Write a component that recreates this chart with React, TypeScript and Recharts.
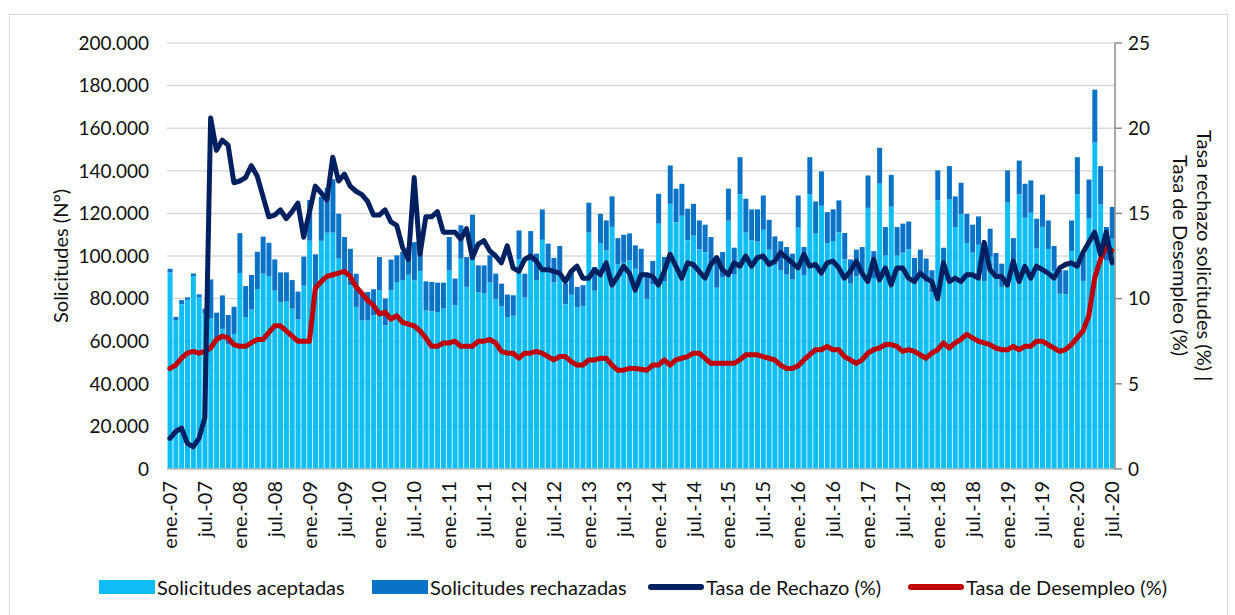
import React from 'react';
import { ComposedChart, Bar, Line, XAxis, YAxis, CartesianGrid } from 'recharts';

const MONTHS = ['ene.', 'feb.', 'mar.', 'abr.', 'may.', 'jun.', 'jul.', 'ago.', 'sep.', 'oct.', 'nov.', 'dic.'];
const YEARS = ['07', '08', '09', '10', '11', '12', '13', '14', '15', '16', '17', '18', '19', '20'];
const LAST_MONTH_2020 = 7; // series ends jul.-20

const ACCEPTED = [
  92300, 69800, 77400, 79400, 90600, 80500, 73000, 70700, 59700, 65800, 58600, 63400,
  92000, 71200, 74900, 84500, 91700, 90500, 83700, 78300, 78700, 75300, 70300, 86100,
  107200, 84100, 107100, 111000, 111000, 98800, 92000, 86300, 76100, 69800, 69800, 72200,
  83900, 67500, 83900, 87800, 88700, 91200, 88600, 93000, 74500, 74000, 73700, 75300,
  93300, 76900, 98800, 85500, 103800, 83000, 82500, 87500, 79900, 76300, 71200, 71900,
  98500, 80500, 97700, 88700, 107600, 93400, 87600, 92600, 77400, 81800, 75900, 76600,
  111000, 83700, 106100, 102600, 113700, 96100, 96900, 97900, 94000, 91600, 79900, 86700,
  115200, 88000, 124500, 115900, 118900, 107400, 109600, 103200, 101800, 95900, 85100, 90000,
  116600, 91300, 129000, 111000, 107400, 106800, 112300, 103000, 95900, 93300, 91300, 88900,
  113300, 91100, 129000, 110500, 123600, 106000, 107000, 111200, 98400, 87000, 90400, 92200,
  122600, 89700, 134000, 100200, 123200, 100200, 101600, 103200, 88200, 91200, 87700, 83000,
  126200, 91300, 126600, 113600, 119600, 106100, 101600, 105300, 88300, 99600, 90000, 85500,
  125100, 95200, 128900, 117900, 120300, 103500, 113700, 103300, 93000, 82300, 82100, 102400,
  129000, 88300, 117800, 153300, 124300, 97800, 108100,
];

const REJECTED = [
  1700, 1600, 1900, 1200, 1200, 1500, 2300, 18300, 13700, 15700, 13700, 12800,
  18700, 14700, 16200, 17500, 17400, 15700, 14700, 14000, 13600, 13400, 13000, 13600,
  19100, 16700, 20700, 21000, 25000, 21000, 16900, 17100, 15600, 13300, 13300, 12200,
  15600, 12500, 14400, 12500, 13200, 12800, 17900, 13500, 13600, 13800, 13800, 12200,
  15600, 12500, 15600, 14000, 15600, 12600, 13100, 12800, 11800, 10700, 10700, 9700,
  13500, 11200, 14000, 12400, 14300, 12400, 11500, 12100, 9600, 10700, 9600, 9700,
  14000, 11100, 13700, 14100, 14300, 12300, 13100, 12700, 11000, 11800, 10300, 11000,
  14000, 11500, 18000, 15700, 15000, 14800, 14900, 13500, 12900, 13000, 12100, 11900,
  15000, 12600, 17400, 15900, 14500, 15100, 16100, 14000, 13300, 13600, 12900, 12200,
  15100, 13100, 17400, 15100, 16100, 14600, 14900, 14900, 12400, 11400, 12600, 12000,
  15200, 12600, 16800, 13400, 14900, 13400, 13600, 13000, 10900, 11800, 11100, 10300,
  14000, 12600, 15600, 14400, 14800, 13700, 13100, 13300, 13600, 13200, 11400, 10900,
  15100, 13200, 15900, 16000, 15200, 14000, 15100, 13400, 11700, 11000, 11200, 14300,
  17400, 12800, 18100, 24800, 17900, 15800, 14900,
];

const REJECTION_RATE = [
  1.8, 2.2, 2.4, 1.5, 1.3, 1.8, 3.0, 20.6, 18.7, 19.3, 19.0, 16.8,
  16.9, 17.1, 17.8, 17.2, 16.0, 14.8, 14.9, 15.2, 14.7, 15.1, 15.6, 13.6,
  15.1, 16.6, 16.2, 15.8, 18.3, 16.9, 17.3, 16.6, 16.3, 16.1, 15.7, 14.9,
  14.9, 15.2, 14.5, 14.3, 13.0, 12.3, 17.1, 12.6, 14.8, 14.8, 15.1, 13.9,
  13.9, 13.9, 13.5, 14.1, 12.4, 13.2, 13.4, 12.8, 12.5, 12.1, 13.1, 11.8,
  11.6, 12.3, 12.5, 12.2, 11.7, 11.7, 11.6, 11.5, 11.0, 11.6, 11.9, 11.2,
  11.2, 11.7, 11.4, 12.1, 10.8, 11.3, 11.9, 11.5, 10.5, 11.4, 11.4, 11.3,
  10.8, 11.6, 12.6, 11.9, 11.2, 12.1, 12.0, 11.6, 11.2, 12.0, 12.4, 11.7,
  11.4, 12.1, 11.9, 12.5, 11.9, 12.4, 12.5, 12.0, 12.2, 12.7, 12.4, 12.1,
  11.8, 12.6, 11.9, 12.0, 11.5, 12.1, 12.2, 11.8, 11.2, 11.6, 12.2, 11.5,
  11.0, 12.3, 11.1, 11.8, 10.8, 11.8, 11.8, 11.2, 11.0, 11.5, 11.2, 11.0,
  10.0, 12.1, 11.0, 11.2, 11.0, 11.4, 11.4, 11.2, 13.3, 11.7, 11.3, 11.3,
  10.8, 12.2, 11.0, 11.9, 11.2, 11.9, 11.7, 11.5, 11.2, 11.8, 12.0, 12.1,
  11.9, 12.7, 13.3, 13.9, 12.6, 13.9, 12.1,
];

const UNEMPLOYMENT = [
  5.9, 6.1, 6.5, 6.8, 6.9, 6.8, 6.9, 7.1, 7.6, 7.8, 7.7, 7.3,
  7.2, 7.2, 7.4, 7.6, 7.6, 8.0, 8.4, 8.4, 8.1, 7.8, 7.5, 7.5,
  7.5, 10.6, 11.0, 11.3, 11.4, 11.5, 11.6, 11.3, 10.7, 10.3, 9.9, 9.6,
  9.1, 9.2, 8.8, 9.0, 8.6, 8.5, 8.4, 8.1, 7.7, 7.2, 7.2, 7.4,
  7.4, 7.5, 7.2, 7.2, 7.2, 7.5, 7.5, 7.6, 7.4, 6.9, 6.8, 6.8,
  6.5, 6.8, 6.8, 6.9, 6.8, 6.6, 6.4, 6.6, 6.6, 6.3, 6.1, 6.1,
  6.4, 6.4, 6.5, 6.5, 6.1, 5.8, 5.8, 5.9, 5.9, 5.85, 5.8, 6.1,
  6.1, 6.4, 6.1, 6.4, 6.5, 6.6, 6.8, 6.8, 6.5, 6.2, 6.2, 6.2,
  6.2, 6.2, 6.4, 6.7, 6.7, 6.7, 6.6, 6.5, 6.4, 6.1, 5.9, 5.9,
  6.05, 6.4, 6.7, 7.0, 7.0, 7.2, 7.0, 7.0, 6.6, 6.4, 6.2, 6.4,
  6.8, 7.0, 7.1, 7.3, 7.3, 7.2, 6.9, 7.0, 6.9, 6.7, 6.5, 6.8,
  7.0, 7.4, 7.1, 7.4, 7.6, 7.9, 7.7, 7.5, 7.4, 7.3, 7.1, 7.0,
  7.0, 7.2, 7.0, 7.2, 7.2, 7.5, 7.5, 7.3, 7.1, 6.9, 7.0, 7.3,
  7.7, 8.1, 9.0, 11.2, 12.3, 13.1, 12.8,
];

const LEFT_TICKS = [0, 20000, 40000, 60000, 80000, 100000, 120000, 140000, 160000, 180000, 200000];
const RIGHT_TICKS = [0, 5, 10, 15, 20, 25];

const CATEGORIES: string[] = [];
YEARS.forEach((y, yi) => {
  MONTHS.forEach((m, mi) => {
    if (yi === YEARS.length - 1 && mi >= LAST_MONTH_2020) return;
    CATEGORIES.push(`${m}-${y}`);
  });
});

const data = CATEGORIES.map((c, i) => ({
  month: c,
  aceptadas: ACCEPTED[i],
  rechazadas: REJECTED[i],
  rechazo: REJECTION_RATE[i],
  desempleo: UNEMPLOYMENT[i],
}));

const FONT = 'Lato, "Open Sans", sans-serif';
const LIGHT = '#11BDF5';
const DARK = '#0A73C8';
const NAVY = '#002060';
const RED = '#C00000';

const fmtThousands = (v: number) => String(v).replace(/\B(?=(\d{3})+(?!\d))/g, '.');

const XTick = (props: any) => {
  const { x, payload } = props;
  const y = 481;
  return (
    <text
      x={x}
      y={y}
      transform={`rotate(-90, ${x}, ${y})`}
      textAnchor="end"
      dy="0.36em"
      fontFamily={FONT}
      fontSize={20}
      fill="#111"
    >
      {payload.value}
    </text>
  );
};

const legendItems = [
  { label: 'Solicitudes aceptadas', color: LIGHT, type: 'rect', x: 99, tx: 157 },
  { label: 'Solicitudes rechazadas', color: DARK, type: 'rect', x: 372, tx: 430 },
  { label: 'Tasa de Rechazo (%)', color: NAVY, type: 'line', x: 648, tx: 706 },
  { label: 'Tasa de Desempleo (%)', color: RED, type: 'line', x: 908, tx: 966 },
];

export default function App() {
  return (
    <div style={{ position: 'absolute', left: 0, top: 0, width: 1235, height: 615, background: '#fff', overflow: 'hidden', fontFamily: FONT }}>
      <div style={{ position: 'absolute', left: 9, top: 14, width: 1217, height: 640, border: '1px solid #d9d9d9' }} />
      <div style={{ position: 'absolute', left: 0, top: 0 }}>
        <ComposedChart
          width={1235}
          height={615}
          data={data}
          margin={{ top: 43, right: 60, bottom: 66, left: 87 }}
          barCategoryGap="10%"
        >
          <CartesianGrid vertical={false} stroke="#d9d9d9" strokeWidth={1.5} yAxisId="left" />
          <XAxis
            dataKey="month"
            interval={5}
            tickLine={false}
            axisLine={{ stroke: '#bfbfbf', strokeWidth: 1.5 }}
            tick={<XTick />}
            height={80}
          />
          <YAxis
            yAxisId="left"
            domain={[0, 200000]}
            ticks={LEFT_TICKS}
            tickFormatter={fmtThousands}
            axisLine={false}
            tickLine={false}
            width={80}
            tickMargin={12}
            tick={{ fontSize: 19, fill: '#111', fontFamily: FONT }}
          />
          <YAxis
            yAxisId="right"
            orientation="right"
            domain={[0, 25]}
            ticks={RIGHT_TICKS}
            axisLine={{ stroke: '#8c8c8c', strokeWidth: 1.5 }}
            tickLine={{ stroke: '#8c8c8c', strokeWidth: 1.5 }}
            tickSize={7}
            tickMargin={6}
            width={60}
            tick={{ fontSize: 19, fill: '#111', fontFamily: FONT }}
          />
          <Bar yAxisId="left" dataKey="aceptadas" stackId="s" fill={LIGHT} isAnimationActive={false} />
          <Bar yAxisId="left" dataKey="rechazadas" stackId="s" fill={DARK} isAnimationActive={false} />
          <Line
            yAxisId="right"
            type="linear"
            dataKey="desempleo"
            stroke={RED}
            strokeWidth={5}
            strokeLinejoin="round"
            strokeLinecap="round"
            dot={false}
            activeDot={false}
            isAnimationActive={false}
          />
          <Line
            yAxisId="right"
            type="linear"
            dataKey="rechazo"
            stroke={NAVY}
            strokeWidth={5}
            strokeLinejoin="round"
            strokeLinecap="round"
            dot={false}
            activeDot={false}
            isAnimationActive={false}
          />
        </ComposedChart>
      </div>

      <div
        style={{
          position: 'absolute', left: 48, top: 43, width: 24, height: 426,
          writingMode: 'vertical-rl', transform: 'rotate(180deg)', textAlign: 'center',
          fontSize: 20, lineHeight: '24px', color: '#111', whiteSpace: 'nowrap',
        }}
      >
        Solicitudes (N°)
      </div>
      <div
        style={{
          position: 'absolute', left: 1169, top: 43, width: 48, height: 426,
          writingMode: 'vertical-rl', textAlign: 'center',
          fontSize: 20, lineHeight: '24px', color: '#111', whiteSpace: 'nowrap',
        }}
      >
        Tasa rechazo solicitudes (%) |<br />Tasa de Desempleo (%)
      </div>

      {legendItems.map((it) => (
        <React.Fragment key={it.label}>
          {it.type === 'rect' ? (
            <div style={{ position: 'absolute', left: it.x, top: 580, width: 56, height: 14, background: it.color }} />
          ) : (
            <div style={{ position: 'absolute', left: it.x, top: 584, width: 56, height: 6, borderRadius: 3, background: it.color }} />
          )}
          <div style={{ position: 'absolute', left: it.tx, top: 574, height: 26, lineHeight: '26px', fontSize: 20, color: '#111', whiteSpace: 'nowrap' }}>
            {it.label}
          </div>
        </React.Fragment>
      ))}
    </div>
  );
}
